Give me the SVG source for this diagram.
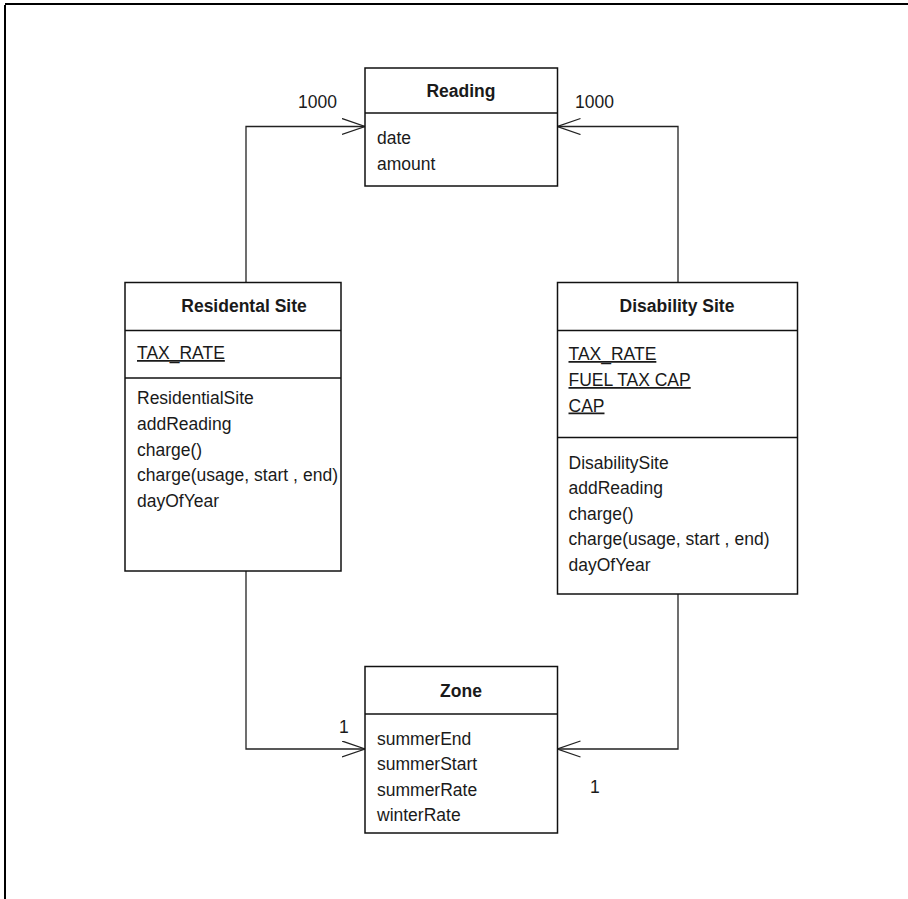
<svg xmlns="http://www.w3.org/2000/svg" width="908" height="899" viewBox="0 0 908 899">
  <style>
    .box { fill: #fff; stroke: #111; stroke-width: 1.5; }
    .div { stroke: #111; stroke-width: 1.3; }
    .conn { fill: none; stroke: #222; stroke-width: 1.3; }
    text { font-family: "Liberation Sans", Arial, sans-serif; font-size: 17.5px; fill: #1a1a1a; }
    .title { font-weight: bold; text-anchor: middle; }
    .static { text-decoration: underline; }
  </style>
  <defs>
    <marker id="open" markerUnits="userSpaceOnUse" viewBox="0 0 25 18" refX="23" refY="8.5" markerWidth="25" markerHeight="18" orient="auto">
      <path d="M0,0.5 L23,8.5 L0,16.5" fill="none" stroke="#222" stroke-width="1.3"/>
    </marker>
  </defs>

  <!-- page frame -->
  <path d="M5,4 H908 M5,5 V899" fill="none" stroke="#000" stroke-width="2"/>

  <!-- associations -->
  <g id="connectors">
    <path class="conn" d="M246,283 V126.5 H365" marker-end="url(#open)"/>
    <path class="conn" d="M678,283 V126.5 H557.5" marker-end="url(#open)"/>
    <path class="conn" d="M246,571 V749 H365" marker-end="url(#open)"/>
    <path class="conn" d="M678,594 V749 H557.5" marker-end="url(#open)"/>
    <text x="298" y="108">1000</text>
    <text x="575" y="108">1000</text>
    <text x="339" y="733">1</text>
    <text x="590" y="793">1</text>
  </g>

  <g id="reading">
    <rect class="box" x="365" y="68" width="192.5" height="118"/>
    <line class="div" x1="365" y1="113" x2="557.5" y2="113"/>
    <text class="title" x="461" y="97">Reading</text>
    <text x="377" y="144">date</text>
    <text x="377" y="170">amount</text>
  </g>

  <g id="residental-site">
    <rect class="box" x="125" y="282.5" width="216" height="288.5"/>
    <line class="div" x1="125" y1="330.5" x2="341" y2="330.5"/>
    <line class="div" x1="125" y1="378" x2="341" y2="378"/>
    <text class="title" x="244" y="312">Residental Site</text>
    <text class="static" x="137" y="359">TAX_RATE</text>
    <text x="137" y="404">ResidentialSite</text>
    <text x="137" y="430">addReading</text>
    <text x="137" y="455.5">charge()</text>
    <text x="137" y="481" textLength="201" lengthAdjust="spacing">charge(usage, start , end)</text>
    <text x="137" y="506.5">dayOfYear</text>
  </g>

  <g id="disability-site">
    <rect class="box" x="557.5" y="282.5" width="240" height="311.5"/>
    <line class="div" x1="557.5" y1="330.5" x2="797.5" y2="330.5"/>
    <line class="div" x1="557.5" y1="437.5" x2="797.5" y2="437.5"/>
    <text class="title" x="677" y="312">Disability Site</text>
    <text class="static" x="568.5" y="360">TAX_RATE</text>
    <text class="static" x="568.5" y="386">FUEL TAX CAP</text>
    <text class="static" x="568.5" y="411.5">CAP</text>
    <text x="568.5" y="468.5">DisabilitySite</text>
    <text x="568.5" y="494">addReading</text>
    <text x="568.5" y="519.5">charge()</text>
    <text x="568.5" y="545" textLength="201" lengthAdjust="spacing">charge(usage, start , end)</text>
    <text x="568.5" y="570.5">dayOfYear</text>
  </g>

  <g id="zone">
    <rect class="box" x="365" y="666.5" width="192.5" height="166.5"/>
    <line class="div" x1="365" y1="714" x2="557.5" y2="714"/>
    <text class="title" x="461" y="697">Zone</text>
    <text x="377" y="744.5">summerEnd</text>
    <text x="377" y="770">summerStart</text>
    <text x="377" y="795.5">summerRate</text>
    <text x="377" y="821">winterRate</text>
  </g>
</svg>
